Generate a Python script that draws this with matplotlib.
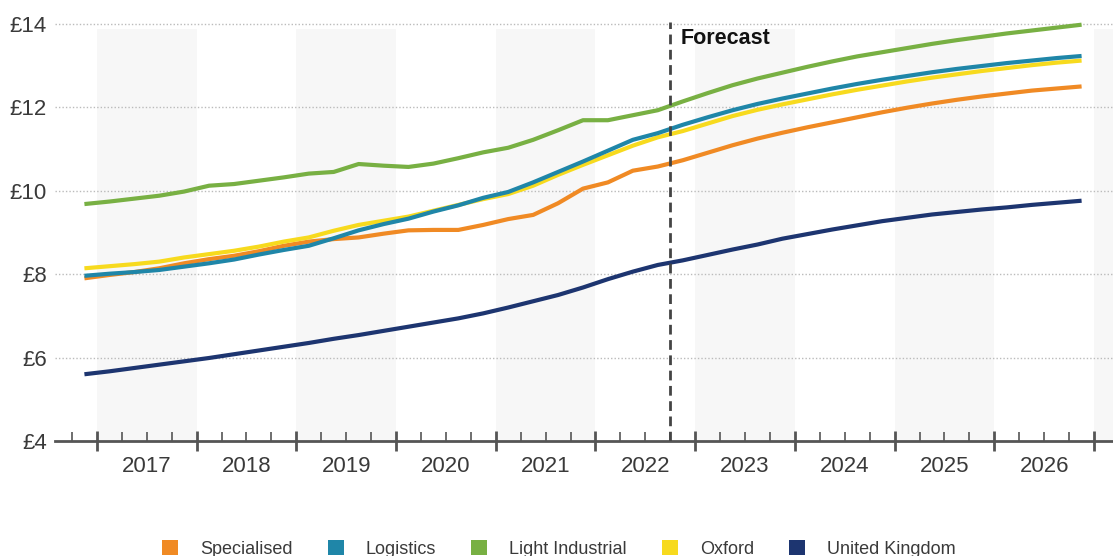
import matplotlib.pyplot as plt
from matplotlib.patches import Patch
import numpy as np

plt.rcParams['font.family'] = ['Liberation Sans', 'DejaVu Sans']

# quarterly points, 2016 Q4 .. 2026 Q4 (forecast from 2022 Q4)
quarters = np.arange(41)
specialised = [7.90, 7.98, 8.05, 8.14, 8.26, 8.36, 8.44, 8.55, 8.68, 8.78,
               8.84, 8.88, 8.97, 9.05, 9.06, 9.06, 9.18, 9.32, 9.42, 9.70,
               10.05, 10.20, 10.48, 10.58,
               10.73, 10.91, 11.09, 11.25, 11.39, 11.52, 11.64, 11.76, 11.88,
               11.99, 12.09, 12.18, 12.26, 12.33, 12.40, 12.45, 12.50]
logistics = [7.96, 8.01, 8.05, 8.10, 8.18, 8.26, 8.35, 8.47, 8.58, 8.68,
             8.86, 9.05, 9.20, 9.33, 9.50, 9.65, 9.83, 9.97, 10.20, 10.45,
             10.70, 10.96, 11.22, 11.38,
             11.58, 11.76, 11.93, 12.08, 12.21, 12.33, 12.45, 12.56, 12.66,
             12.75, 12.84, 12.92, 12.99, 13.06, 13.12, 13.18, 13.23]
light_industrial = [9.68, 9.74, 9.81, 9.88, 9.98, 10.12, 10.16, 10.24, 10.32, 10.41,
                    10.45, 10.64, 10.60, 10.57, 10.65, 10.78, 10.92, 11.03, 11.22, 11.45,
                    11.69, 11.69, 11.81, 11.93,
                    12.14, 12.34, 12.53, 12.69, 12.83, 12.97, 13.10, 13.22, 13.32,
                    13.42, 13.52, 13.61, 13.69, 13.77, 13.84, 13.91, 13.98]
oxford = [8.14, 8.19, 8.24, 8.30, 8.40, 8.48, 8.56, 8.66, 8.78, 8.88,
          9.04, 9.18, 9.28, 9.38, 9.52, 9.66, 9.80, 9.92, 10.12, 10.38,
          10.62, 10.85, 11.08, 11.28,
          11.43, 11.61, 11.79, 11.94, 12.07, 12.19, 12.31, 12.42, 12.52,
          12.62, 12.71, 12.79, 12.87, 12.94, 13.01, 13.07, 13.12]
uk = [5.60, 5.67, 5.75, 5.83, 5.91, 5.99, 6.08, 6.17, 6.26, 6.35,
      6.45, 6.54, 6.64, 6.74, 6.84, 6.94, 7.06, 7.20, 7.35, 7.50,
      7.68, 7.88, 8.06, 8.22,
      8.33, 8.46, 8.59, 8.71, 8.85, 8.96, 9.07, 9.17, 9.27,
      9.35, 9.43, 9.49, 9.55, 9.60, 9.66, 9.71, 9.76]

series = ['Specialised', 'Logistics', 'Light Industrial', 'Oxford', 'United Kingdom']
colors = ['#F08A24', '#1F86A8', '#78B043', '#F7DA1E', '#1D3570']
years = list(range(2017, 2027))
forecast_start = 2022.75

x = 2016.875 + 0.25 * quarters

fig = plt.figure(figsize=(11.13, 5.56), dpi=100)
ax = fig.add_axes([55/1113, 115/556, 1058/1113, 438/556])
ax.set_xlim(2016.58, 2027.19)
ax.set_ylim(4, 14.5)

# alternating year bands
for y0 in range(2017, 2028, 2):
    ax.axvspan(y0, y0 + 1, ymin=0, ymax=0.94, color='#F7F7F7', lw=0, zorder=0)

for v in [6, 8, 10, 12, 14]:
    ax.axhline(v, color='#BBBBBB', lw=1, ls=(0, (1, 1.5)), zorder=1)

data = [specialised, logistics, light_industrial, oxford, uk]
order = [4, 0, 3, 1, 2]
for i in order:
    ax.plot(x, data[i], color=colors[i], lw=3, solid_capstyle='butt', zorder=3)

ax.axvline(forecast_start, ymin=0, ymax=0.957, color='#444444', lw=2,
           ls=(0, (3.5, 2)), zorder=4)
ax.text(forecast_start + 0.1, 13.66, 'Forecast', fontsize=15.5, fontweight='bold',
        va='center', ha='left', color='#111111')

ax.set_yticks([4, 6, 8, 10, 12, 14])
ax.set_yticklabels(['£' + str(v) for v in [4, 6, 8, 10, 12, 14]])
ax.tick_params(axis='y', length=0, pad=6, labelsize=16, labelcolor='#3A3A3A')

ax.set_xticks(range(2017, 2028))
ax.set_xticklabels([])
ax.set_xticks([q for q in np.arange(2016.75, 2027, 0.25) if q % 1 != 0], minor=True)
ax.tick_params(axis='x', which='major', direction='inout', length=14, width=2, color='#555555')
ax.tick_params(axis='x', which='minor', direction='in', length=6.5, width=1.2, color='#555555')

for s in ['left', 'right', 'top']:
    ax.spines[s].set_visible(False)
ax.spines['bottom'].set_color('#555555')
ax.spines['bottom'].set_linewidth(2)

for yr in years:
    ax.text(yr + 0.5, -0.058, str(yr), transform=ax.get_xaxis_transform(),
            ha='center', va='center', fontsize=16, color='#3A3A3A')

handles = [Patch(facecolor=c, edgecolor='none') for c in colors]
fig.legend(handles, series, loc='lower center', bbox_to_anchor=(0.502, -0.032), ncol=5,
           frameon=False, fontsize=13, handlelength=0.9, handleheight=0.9,
           handletextpad=1.2, columnspacing=1.95, labelcolor='#3A3A3A')

fig.savefig('out.png', dpi=100)
